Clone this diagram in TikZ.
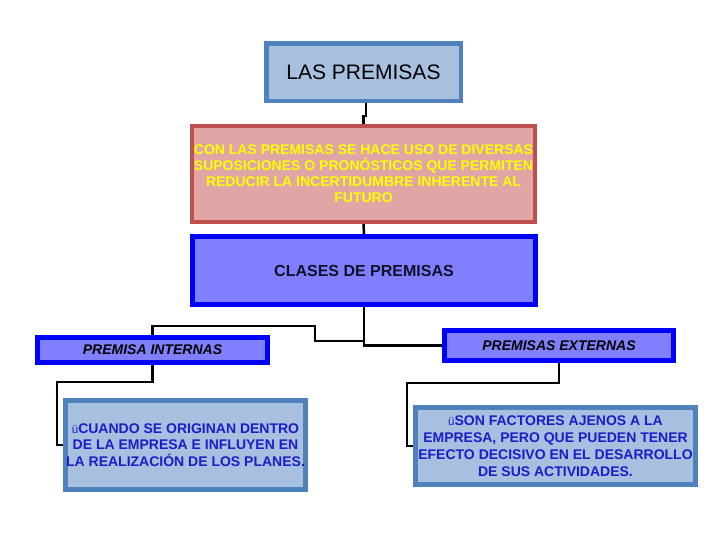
\documentclass[tikz,border=0pt]{standalone}
\usepackage{fontspec}
\setmainfont{Liberation Sans}
\definecolor{PremisaEdge}{HTML}{4F81BD}
\definecolor{PremisaFill}{HTML}{A8C0DF}
\definecolor{PremisaRose}{HTML}{DFA6A5}
\definecolor{PremisaRed}{HTML}{C0504D}
\definecolor{PremisaYellow}{HTML}{FFFF00}
\definecolor{PremisaViolet}{HTML}{8080FF}
\definecolor{PremisaBlue}{HTML}{0000FF}
\definecolor{PremisaInk}{HTML}{1C1CC8}
\definecolor{PremisaDark}{HTML}{10102A}

\begin{document}
\begin{tikzpicture}[x=1pt,y=-1pt,
    box/.style={draw,inner sep=0pt,align=center},
    steelbox/.style={box,draw=PremisaEdge,fill=PremisaFill},
    violetbox/.style={box,draw=PremisaBlue,fill=PremisaViolet,line width=5pt},
    conn/.style={line width=2.5pt,black}]
      \useasboundingbox (0,0) rectangle (728,546);
      \node[steelbox,line width=4.5pt,minimum width=194.5pt,minimum height=57.5pt,font=\fontsize{21}{24}\selectfont] (prem) at (363.5,72) {LAS PREMISAS};
      \node[box,draw=PremisaRed,fill=PremisaRose,line width=4pt,minimum width=343pt,minimum height=96pt,text=PremisaYellow,font=\bfseries\fontsize{14}{16}\selectfont] (idea) at (363.5,174)
        {CON LAS PREMISAS SE HACE USO DE DIVERSAS\\SUPOSICIONES O PRONÓSTICOS QUE PERMITEN\\REDUCIR LA INCERTIDUMBRE INHERENTE AL\\FUTURO};
      \node[violetbox,minimum width=343pt,minimum height=68pt,text=PremisaDark,font=\bfseries\fontsize{16}{19}\selectfont] (clases) at (364,270.5) {CLASES DE PREMISAS};
      \node[violetbox,minimum width=230pt,minimum height=25pt,font=\bfseries\itshape\fontsize{14}{16}\selectfont] (internas) at (152.5,350) {PREMISA INTERNAS};
      \node[violetbox,minimum width=229pt,minimum height=30pt,font=\bfseries\itshape\fontsize{14}{16}\selectfont] (externas) at (559,345.5) {PREMISAS EXTERNAS};
      \node[steelbox,line width=5pt,minimum width=240pt,minimum height=89pt,text=PremisaInk,font=\bfseries\fontsize{14}{16.5}\selectfont] (cuando) at (185.5,445)
        {{\mdseries\fontsize{11.5}{12}\selectfont ü}CUANDO SE ORIGINAN DENTRO\\DE LA EMPRESA E INFLUYEN EN\\LA REALIZACIÓN DE LOS PLANES.};
      \node[steelbox,line width=5pt,minimum width=280pt,minimum height=77pt,text=PremisaInk,font=\bfseries\fontsize{14}{17}\selectfont] (factores) at (555.5,446)
        {{\mdseries\fontsize{11.5}{12}\selectfont ü}SON FACTORES AJENOS A LA\\EMPRESA, PERO QUE PUEDEN TENER\\EFECTO DECISIVO EN EL DESARROLLO\\DE SUS ACTIVIDADES.};
      % connectors
      \draw[conn] ([xshift=2.5pt]prem.south) -- ++(0,13) -| (idea.north);
      \draw[conn] (idea.south) -- (clases.north);
      \draw[conn] (clases.south) |- (externas.west);
      \draw[conn] (clases.south) ++(0,34) -| (315,326) -| (internas.north);
      \draw[conn] (internas.south) |- (57,382) |- (cuando.west);
      \draw[conn] (externas.south) |- (407,383) |- (factores.west);
    \end{tikzpicture}
\end{document}
